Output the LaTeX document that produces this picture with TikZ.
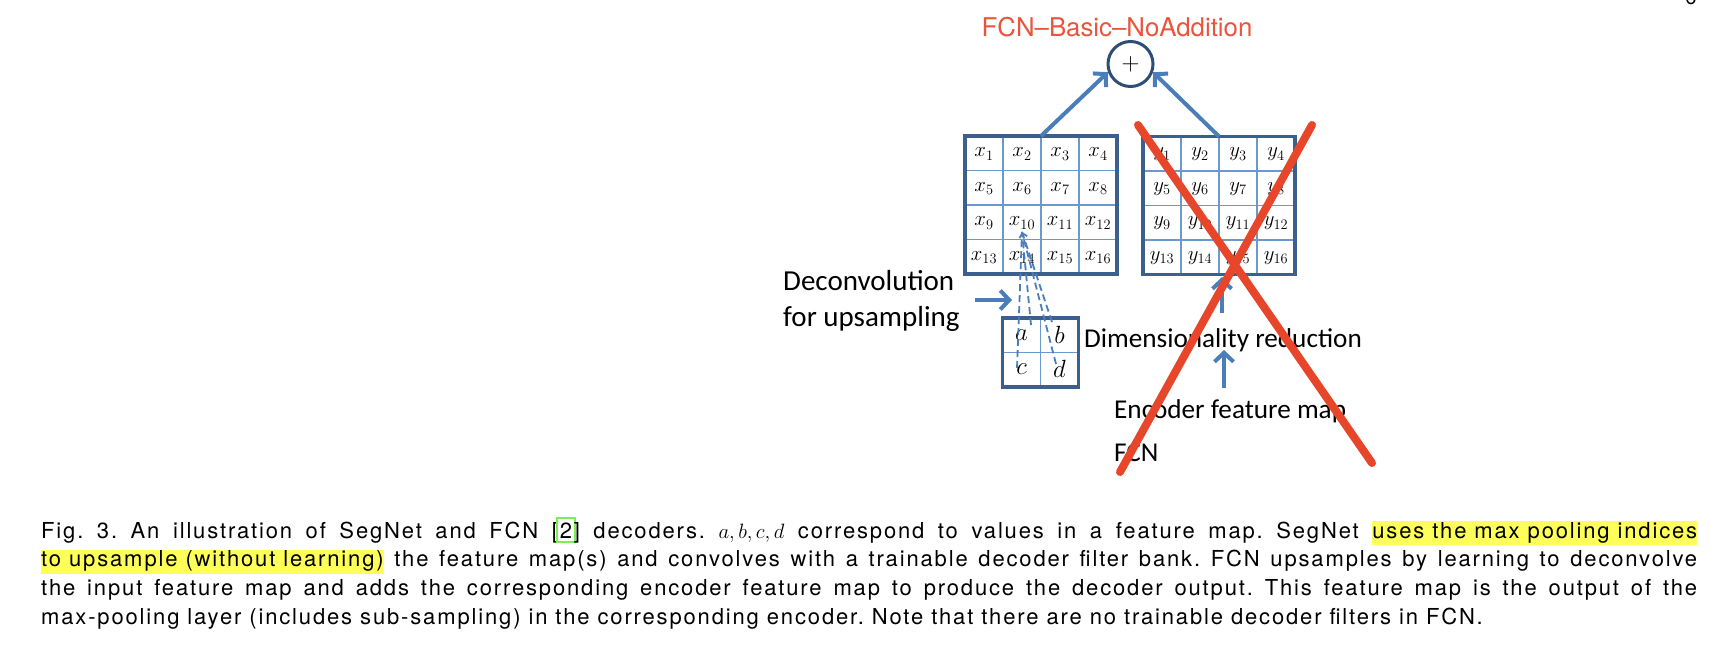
\documentclass[tikz,border=0pt]{standalone}
\usepackage{fontspec}
\setmainfont{Carlito}
\newfontfamily\capfont[LetterSpace=8.4]{TeX Gyre Heros}
\newfontfamily\titlefont{TeX Gyre Heros}
\usetikzlibrary{arrows.meta,calc}
\definecolor{arrowblue}{RGB}{74,126,187}
\definecolor{gridouter}{RGB}{60,96,142}
\definecolor{gridinner}{RGB}{108,152,208}
\definecolor{circblue}{RGB}{46,78,120}
\definecolor{redx}{RGB}{232,70,42}
\definecolor{titlered}{RGB}{232,85,60}
\definecolor{hlyellow}{RGB}{255,255,90}
\definecolor{linkgreen}{RGB}{120,240,80}
\newcommand{\hlt}[1]{{\setlength{\fboxsep}{0pt}\colorbox{hlyellow}{\rule[-7pt]{0pt}{24pt}#1}}}
\newcommand{\citebox}[1]{{\setlength{\fboxsep}{2pt}\setlength{\fboxrule}{1.8pt}\kern-2pt{\color{linkgreen}\fbox{\color{black}\rule[-1pt]{0pt}{18pt}#1}}\kern-2pt}}
\begin{document}
\begin{tikzpicture}[x=1pt,y=-1pt,
  fmap/.style={inner sep=0pt, outer sep=0pt},
  outerline/.style={draw=gridouter, line width=3.2pt, line join=miter},
  innerline/.style={draw=gridinner, line width=1.4pt},
  cell/.style={inner sep=0pt, font=\fontsize{22.5}{26}\selectfont},
  bigcell/.style={inner sep=0pt, font=\fontsize{25}{28}\selectfont},
  lbl/.style={inner sep=0pt, anchor=base west, font=\fontsize{27.2}{30}\selectfont},
  lblbig/.style={inner sep=0pt, anchor=base west, font=\fontsize{29}{32}\selectfont},
  arr/.style={draw=arrowblue, line width=4pt, -{Straight Barb[length=9pt,width=19pt]}},
  dl/.style={draw=arrowblue, line width=1.8pt, dash pattern=on 7pt off 4pt},
  redcross/.style={draw=redx, line width=8pt, line cap=round}]
\useasboundingbox (0,0) rectangle (1736,650);

% page number (clipped at the top edge, as in the reference)
\node[anchor=base, inner sep=0pt, font=\titlefont\fontsize{20}{20}\selectfont] (pg) at (1691,5) {6};

% title and sum node
\node[inner sep=0pt, text=titlered, font=\titlefont\fontsize{25.8}{28}\selectfont] (title) at (1117,27) {FCN–Basic–NoAddition};
\node[circle, draw=circblue, line width=3pt, minimum size=45pt, inner sep=0pt] (plus) at (1130.5,64) {\fontsize{26}{26}\selectfont$+$};

% feature map X
\node[fmap, minimum width=152pt, minimum height=138pt] (X) at (1041,205) {};
\foreach \f in {0.25,0.5,0.75}{
  \draw[innerline] ($(X.north west)!\f!(X.north east)$) -- ($(X.south west)!\f!(X.south east)$);
  \draw[innerline] ($(X.north west)!\f!(X.south west)$) -- ($(X.north east)!\f!(X.south east)$);
}
\draw[outerline] (X.north west) rectangle (X.south east);
\foreach \r in {0,...,3}{
  \foreach \c in {1,...,4}{
    \pgfmathtruncatemacro\n{4*\r+\c}
    \node[cell] (x\n) at ($(X.north west)+({19+38*(\c-1)},{18+34.5*\r})$) {$x_{\n}$};
  }
}

% feature map Y
\node[fmap, minimum width=152pt, minimum height=138pt] (Y) at (1219,205.5) {};
\foreach \f in {0.25,0.5,0.75}{
  \draw[innerline] ($(Y.north west)!\f!(Y.north east)$) -- ($(Y.south west)!\f!(Y.south east)$);
  \draw[innerline] ($(Y.north west)!\f!(Y.south west)$) -- ($(Y.north east)!\f!(Y.south east)$);
}
\draw[outerline] (Y.north west) rectangle (Y.south east);
\foreach \r in {0,...,3}{
  \foreach \c in {1,...,4}{
    \pgfmathtruncatemacro\n{4*\r+\c}
    \node[cell] (y\n) at ($(Y.north west)+({19+38*(\c-1)},{18+34.5*\r})$) {$y_{\n}$};
  }
}

% small map S
\node[fmap, minimum width=76pt, minimum height=69pt] (S) at (1040.5,352.5) {};
\draw[innerline] (S.north) -- (S.south);
\draw[innerline] (S.west) -- (S.east);
\draw[outerline] (S.north west) rectangle (S.south east);
\node[bigcell] (a) at ($(S.north west)+(19,17)$) {$a$};
\node[bigcell] (b) at ($(S.north west)+(57,17)$) {$b$};
\node[bigcell] (c) at ($(S.north west)+(19,51)$) {$c$};
\node[bigcell] (d) at ($(S.north west)+(57,51)$) {$d$};

% dashed deconvolution lines
\coordinate (apex) at (1022,232);
\coordinate (pc) at (1017,368);
\coordinate (pa) at (1031,325);
\coordinate (pb) at (1052,322);
\coordinate (pd) at (1056,364);
\draw[dl] (pc) -- (apex);
\draw[dl] (pa) -- (apex);
\draw[dl] (pb) -- (apex);
\draw[dl, -{Straight Barb[length=4pt,width=8pt]}] (pd) -- (apex);

% text labels
\node[lblbig] (deconv1) at (783,290) {Deconvolution};
\node[lblbig] (deconv2) at (783,326) {for upsampling};
\node[lbl] (dimred) at (1084,347) {Dimensionality reduction};
\node[lbl] (enc) at (1114,418) {Encoder feature map};
\node[lbl] (fcn) at (1114,461) {FCN};

% arrows
\draw[arr] (X.north) -- (plus.200);
\draw[arr] (Y.north) -- (plus.340);
\coordinate (dcs) at (975,300);
\coordinate (dce) at (1012,300);
\draw[arr] (dcs) -- (dce);
\coordinate (u1s) at (1222,313);
\coordinate (u1e) at (1222,277);
\draw[arr] (u1s) -- (u1e);
\coordinate (u2s) at (1224,388);
\coordinate (u2e) at (1224,350);
\draw[arr] (u2s) -- (u2e);

% red cross
\draw[redcross] (1138,125) -- (1372,463);
\draw[redcross] (1312,125) -- (1120,472);

% caption
\node[anchor=north west, inner sep=0pt, text width=1656pt, align=justify,
      font=\capfont\fontsize{22}{28.7}\selectfont\frenchspacing] (cap) at (41,517)
{Fig. 3. An illustration of SegNet and FCN [\citebox{2}] decoders. $a, b, c, d$ correspond to values in a feature map. SegNet \hlt{uses the max pooling indices}\linebreak
\hlt{to upsample (without learning)} the feature map(s) and convolves with a trainable decoder filter bank. FCN upsamples by learning to deconvolve\linebreak
the input feature map and adds the corresponding encoder feature map to produce the decoder output. This feature map is the output of the\linebreak
max-pooling layer (includes sub-sampling) in the corresponding encoder. Note that there are no trainable decoder filters in FCN.};
\end{tikzpicture}
\end{document}
